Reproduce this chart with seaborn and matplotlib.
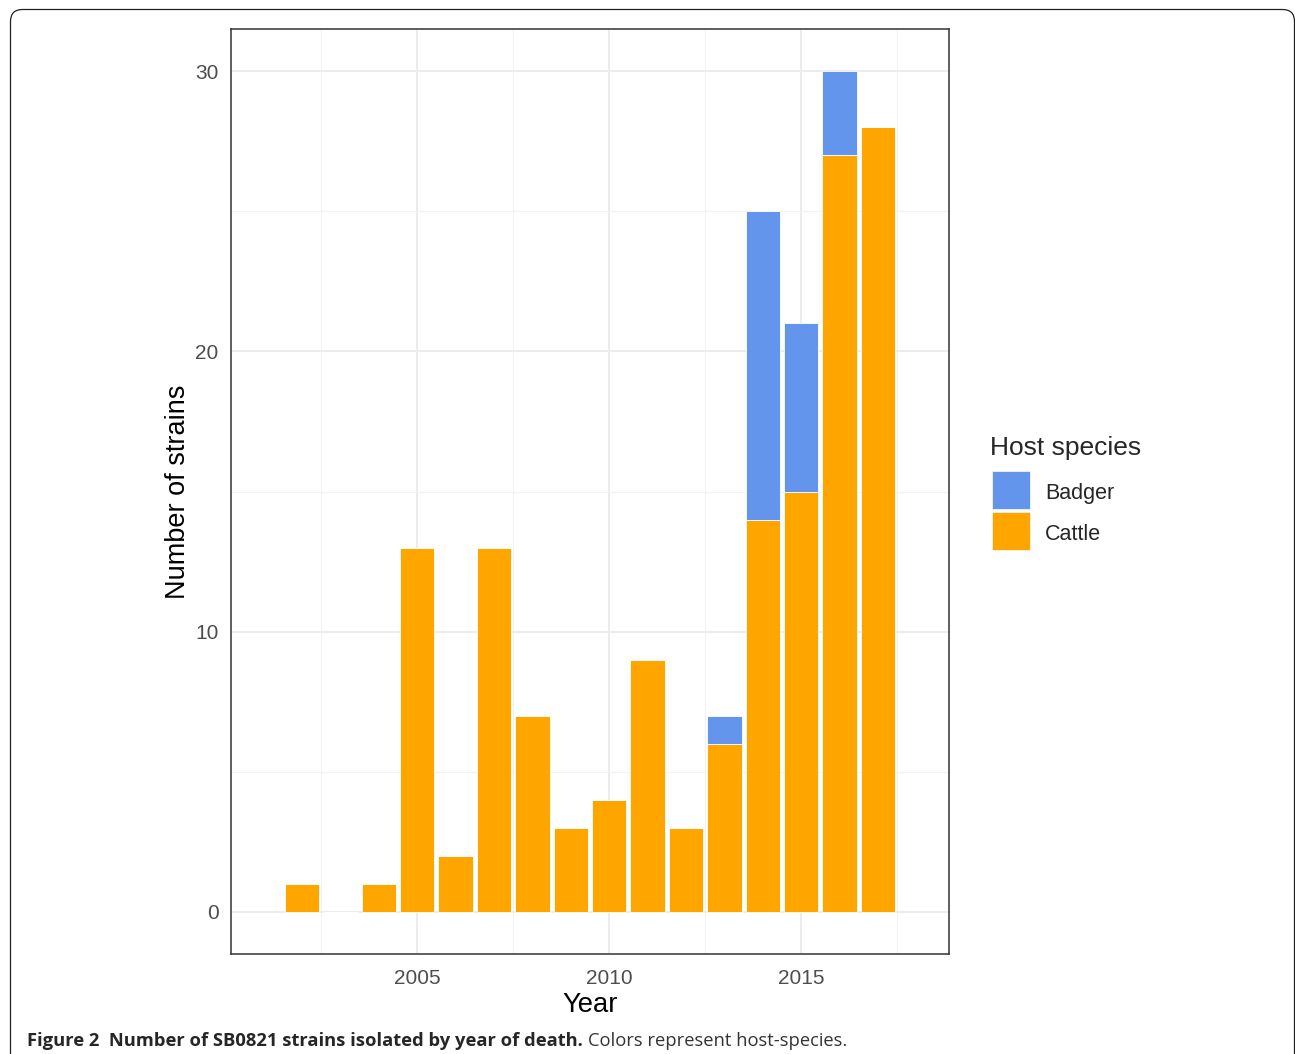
import pandas as pd
import numpy as np
import matplotlib.pyplot as plt
import seaborn as sns
from matplotlib.patches import Rectangle, FancyBboxPatch
from matplotlib.ticker import MultipleLocator

# Data
years = [2002, 2003, 2004, 2005, 2006, 2007, 2008, 2009, 2010,
         2011, 2012, 2013, 2014, 2015, 2016, 2017]
cattle = [1, 0, 1, 13, 2, 13, 7, 3, 4, 9, 3, 6, 14, 15, 27, 28]
badger = [0, 0, 0, 0, 0, 0, 0, 0, 0, 0, 0, 1, 11, 6, 3, 0]
hosts = ['Badger', 'Cattle']
colors = {'Badger': '#6495ED', 'Cattle': '#FFA500'}

df = pd.DataFrame({
    'Year': years * 2,
    'Host': ['Cattle'] * len(years) + ['Badger'] * len(years),
    'n': cattle + badger,
})

sns.set_style("white")
plt.rcParams['font.family'] = ['Liberation Sans', 'DejaVu Sans']

fig = plt.figure(figsize=(12.95, 10.54), dpi=100)
W, H = 1295, 1054
ax = fig.add_axes([231 / W, 1 - 954 / H, (949 - 231) / W, (954 - 29) / H])

sns.histplot(data=df, x='Year', weights='n', hue='Host', hue_order=hosts,
             multiple='stack', discrete=True, shrink=0.9, palette=colors,
             alpha=1, edgecolor='white', linewidth=0.6, ax=ax, legend=False,
             zorder=3)

ax.set_xlim(2000.15, 2018.85)
ax.set_ylim(-1.5, 31.5)
ax.xaxis.set_major_locator(MultipleLocator(5))
ax.xaxis.set_minor_locator(MultipleLocator(2.5))
ax.yaxis.set_major_locator(MultipleLocator(10))
ax.yaxis.set_minor_locator(MultipleLocator(5))
ax.grid(which='major', color='#EBEBEB', linewidth=1.3, zorder=0)
ax.grid(which='minor', color='#F2F2F2', linewidth=0.8, zorder=0)
ax.set_axisbelow(True)
for s in ax.spines.values():
    s.set_color('#333333')
    s.set_linewidth(1.1)
ax.tick_params(which='major', length=4, width=1.1, color='#333333',
               labelsize=15, labelcolor='#4D4D4D', pad=5)
ax.tick_params(which='minor', length=0)
ax.tick_params(axis='x', pad=7)

ax.set_xlabel('Year', fontsize=19.7, color='black', labelpad=3)
ax.set_ylabel('Number of strains', fontsize=19.5, color='black', labelpad=3)

# legend drawn by hand (pixel positions, y measured from the top)
fig.text(990 / W, 1 - 448 / H, 'Host species', fontsize=19, va='center', ha='left')
key_tops = [471, 512]
for h, top in zip(hosts, key_tops):
    fig.patches.append(Rectangle((992, H - top - 38), 38, 38, transform=None,
                                 facecolor=colors[h], edgecolor='#F4F4F4',
                                 linewidth=0.6))
    fig.text(1045 / W, 1 - (top + 23) / H, h, fontsize=15.5, va='center', ha='left')

# journal figure frame
frame = FancyBboxPatch((10.5, -30), 1284, 1054 - 9.5 + 30,
                       boxstyle='round,pad=0,rounding_size=12',
                       transform=None, facecolor='none', edgecolor='#222222',
                       linewidth=0.9, clip_on=False)
fig.patches.append(frame)

# caption
cap_font = ['Open Sans', 'DejaVu Sans']
t1 = fig.text(27 / W, 1 - 1046 / H, 'Figure 2  Number of SB0821 strains isolated by year of death.',
              fontsize=13.2, fontweight='bold', family=cap_font, va='baseline', ha='left')
fig.canvas.draw()
bb = t1.get_window_extent()
fig.text((bb.x1 + 5) / W, 1 - 1046 / H, 'Colors represent host-species.',
         fontsize=13.2, family=cap_font, va='baseline', ha='left', color='#333333')

fig.savefig('out.png', dpi=100)
